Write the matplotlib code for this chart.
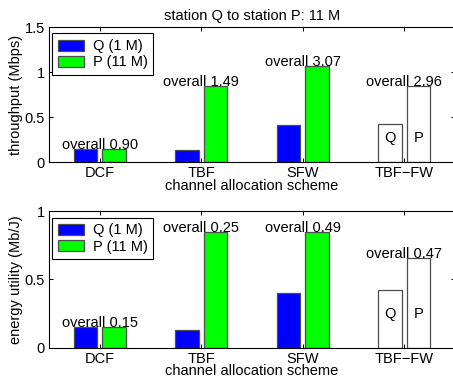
import numpy as np
import matplotlib.pyplot as plt

plt.rcParams['font.family'] = ['Liberation Sans', 'DejaVu Sans']
plt.rcParams['font.size'] = 10.5

# data
schemes = ['DCF', 'TBF', 'SFW', 'TBF\u2212FW']
thr_q = [0.15, 0.13, 0.41, 0.425]
thr_p = [0.15, 0.85, 1.07, 0.85]
thr_overall = ['0.90', '1.49', '3.07', '2.96']
eu_q = [0.15, 0.13, 0.40, 0.42]
eu_p = [0.15, 0.845, 0.845, 0.66]
eu_overall = ['0.15', '0.25', '0.49', '0.47']

x = np.arange(1, len(schemes) + 1)
off = 0.14
w = 0.23


def draw(ax, q, p, overall, ylim, yticks, ylabel, letter_y):
    n = len(schemes)
    # first groups coloured, last group (TBF-FW) drawn white with Q/P letters
    qc = ['#0000ff'] * (n - 1) + ['white']
    pc = ['#00ff00'] * (n - 1) + ['white']
    bq = ax.bar(x - off, q, w, color=qc, edgecolor='0.3', linewidth=0.9, zorder=2)
    bp = ax.bar(x + off, p, w, color=pc, edgecolor='0.3', linewidth=0.9, zorder=2)
    for i in range(n):
        ax.text(x[i], max(q[i], p[i]), 'overall ' + overall[i],
                ha='center', va='baseline', zorder=3)
    ax.text(x[-1] - off, letter_y, 'Q', ha='center', va='center')
    ax.text(x[-1] + off, letter_y, 'P', ha='center', va='center')
    ax.set_xlim(0.5, 4.5)
    ax.set_ylim(*ylim)
    ax.set_yticks(yticks)
    ax.set_yticklabels(['%g' % t for t in yticks])
    ax.set_xticks(x)
    ax.set_xticklabels(schemes)
    ax.tick_params(direction='in', top=True, right=True, length=3, width=0.7, pad=3)
    for s in ax.spines.values():
        s.set_linewidth(0.8)
    ax.set_xlabel('channel allocation scheme', labelpad=-1)
    ax.set_ylabel(ylabel, labelpad=1)
    leg = ax.legend([bq[0], bp[0]], ['Q (1 M)', 'P (11 M)'], loc='upper left',
                    bbox_to_anchor=(0.0, 0.975), fancybox=False, edgecolor='k',
                    framealpha=1, handlelength=1.8, handleheight=0.8,
                    borderpad=0.4, labelspacing=0.15, handletextpad=0.6,
                    borderaxespad=0.2)
    leg.get_frame().set_linewidth(0.8)


fig = plt.figure(figsize=(4.53, 3.85), dpi=100)
ax1 = fig.add_axes([0.1082, 0.5792, 0.8962, 0.3506])
ax2 = fig.add_axes([0.1082, 0.0969, 0.8962, 0.3543])

draw(ax1, thr_q, thr_p, thr_overall, (0, 1.5), [0, 0.5, 1, 1.5],
     'throughput (Mbps)', 0.27)
ax1.set_title('station Q to station P: 11 M', fontsize=10.5, pad=5)
draw(ax2, eu_q, eu_p, eu_overall, (0, 1), [0, 0.5, 1],
     'energy utility (Mb/J)', 0.245)

plt.savefig('out.png', dpi=100)
